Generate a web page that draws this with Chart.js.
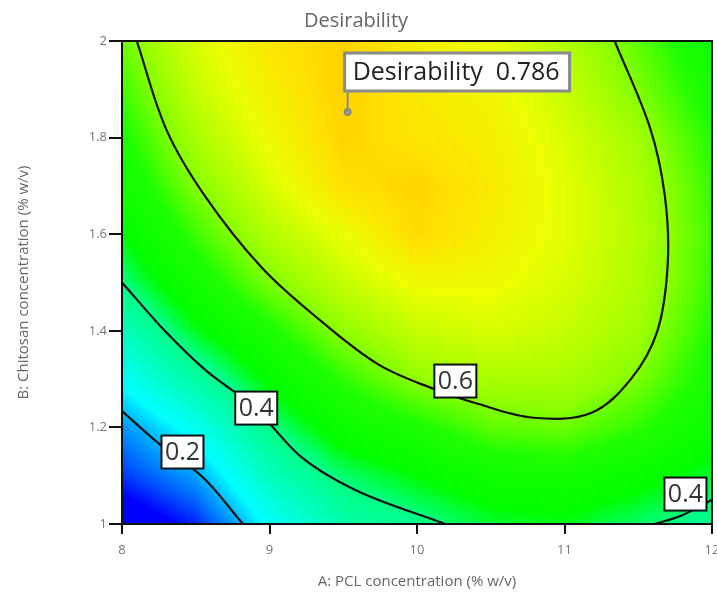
<!DOCTYPE html>
<html>
<head>
<meta charset="utf-8">
<script src="https://cdn.jsdelivr.net/npm/chart.js@4"></script>
<style>
  html, body { margin: 0; padding: 0; background: #fff; }
  #wrap { width: 717px; height: 593px; }
</style>
</head>
<body>
<div id="wrap"><canvas id="chart" width="717" height="593"></canvas></div>
<script>
// grid of the response surface, A = PCL (% w/v), B = chitosan (% w/v)
const gridA = [8, 8.5, 9, 9.5, 10, 10.5, 11, 11.5, 12];
const gridB = [1, 1.1, 1.2, 1.3, 1.4, 1.5, 1.6, 1.7, 1.8, 1.9, 2];
// desirability, one row per B value (B = 1 first)
const desir = [
  [0.05, 0.12, 0.26, 0.35, 0.39, 0.43, 0.44, 0.41, 0.38],
  [0.13, 0.195, 0.33, 0.41, 0.45, 0.49, 0.50, 0.47, 0.43],
  [0.185, 0.27, 0.395, 0.48, 0.52, 0.57, 0.58, 0.54, 0.48],
  [0.26, 0.36, 0.46, 0.54, 0.605, 0.63, 0.63, 0.59, 0.51],
  [0.33, 0.44, 0.52, 0.605, 0.66, 0.68, 0.66, 0.62, 0.53],
  [0.40, 0.50, 0.59, 0.66, 0.71, 0.71, 0.68, 0.635, 0.545],
  [0.45, 0.55, 0.64, 0.70, 0.77, 0.73, 0.69, 0.64, 0.55],
  [0.49, 0.595, 0.68, 0.76, 0.78, 0.74, 0.69, 0.635, 0.545],
  [0.52, 0.63, 0.71, 0.78, 0.75, 0.73, 0.68, 0.62, 0.53],
  [0.55, 0.66, 0.73, 0.786, 0.74, 0.72, 0.66, 0.59, 0.51],
  [0.58, 0.68, 0.75, 0.785, 0.73, 0.70, 0.64, 0.57, 0.49]
];

// contour lines (A, B pairs)
const c02A = [8, 8.24, 8.56, 8.82];
const c02B = [1.234, 1.169, 1.093, 1.0];
const c04aA = [8, 8.29, 8.56, 8.9, 9.21, 9.55, 10.19];
const c04aB = [1.5, 1.40, 1.32, 1.24, 1.14, 1.075, 1.0];
const c06A = [8.1, 8.3, 8.56, 8.95, 9.35, 9.74, 10.11, 10.4, 10.79, 11.18, 11.45, 11.63, 11.70, 11.68, 11.58, 11.34];
const c06B = [2, 1.817, 1.68, 1.53, 1.42, 1.33, 1.28, 1.25, 1.22, 1.23, 1.30, 1.40, 1.54, 1.68, 1.82, 2];
const c04bA = [11.61, 11.79, 12];
const c04bB = [1, 1.017, 1.05];

// contour labels
const labelText = ['0.2', '0.4', '0.6', '0.4'];
const labelA = [8.41, 8.91, 10.26, 11.82];
const labelB = [1.149, 1.24, 1.296, 1.062];

// optimum flag
const optA = [9.53];
const optB = [1.853];
const optD = 0.786;

// colour ramp (blue - cyan - green - yellow - orange)
const rampV = [0.0, 0.1, 0.15, 0.2, 0.25, 0.4, 0.45, 0.53, 0.6, 0.7, 0.76, 0.8];
const rampC = [[0,0,255],[0,0,255],[0,90,255],[0,170,255],[0,255,255],[0,255,130],[0,255,0],[30,255,0],[140,255,0],[235,255,0],[255,225,0],[255,200,0]];

function pts(a, b) { return a.map((v, i) => ({x: v, y: b[i]})); }

function surface(a, b) {
  let i = 0; while (i < gridA.length - 2 && a > gridA[i + 1]) i++;
  let j = 0; while (j < gridB.length - 2 && b > gridB[j + 1]) j++;
  const tx = Math.min(1, Math.max(0, (a - gridA[i]) / (gridA[i + 1] - gridA[i])));
  const ty = Math.min(1, Math.max(0, (b - gridB[j]) / (gridB[j + 1] - gridB[j])));
  return desir[j][i] * (1 - tx) * (1 - ty) + desir[j][i + 1] * tx * (1 - ty) +
         desir[j + 1][i] * (1 - tx) * ty + desir[j + 1][i + 1] * tx * ty;
}

function colour(v) {
  if (v <= rampV[0]) return rampC[0];
  for (let k = 1; k < rampV.length; k++) {
    if (v <= rampV[k]) {
      const t = (v - rampV[k - 1]) / (rampV[k] - rampV[k - 1]);
      const c0 = rampC[k - 1], c1 = rampC[k];
      return [c0[0] + (c1[0] - c0[0]) * t, c0[1] + (c1[1] - c0[1]) * t, c0[2] + (c1[2] - c0[2]) * t];
    }
  }
  return rampC[rampC.length - 1];
}

const heatmap = {
  id: 'heatmap',
  beforeDatasetsDraw(chart) {
    const {ctx, chartArea: ca, scales: {x, y}} = chart;
    const w = Math.round(ca.right - ca.left), h = Math.round(ca.bottom - ca.top);
    const off = document.createElement('canvas');
    off.width = w; off.height = h;
    const octx = off.getContext('2d');
    const img = octx.createImageData(w, h);
    for (let py = 0; py < h; py++) {
      const b = y.getValueForPixel(ca.top + py + 0.5);
      for (let px = 0; px < w; px++) {
        const a = x.getValueForPixel(ca.left + px + 0.5);
        const c = colour(surface(a, b));
        const k = (py * w + px) * 4;
        img.data[k] = c[0]; img.data[k + 1] = c[1]; img.data[k + 2] = c[2]; img.data[k + 3] = 255;
      }
    }
    octx.putImageData(img, 0, 0);
    ctx.drawImage(off, ca.left, ca.top);
  }
};

const labels = {
  id: 'labels',
  afterDatasetsDraw(chart) {
    const {ctx, scales: {x, y}} = chart;
    ctx.save();
    ctx.font = '25px "Open Sans"';
    ctx.textAlign = 'center';
    ctx.textBaseline = 'middle';
    labelText.forEach((t, i) => {
      const cx = x.getPixelForValue(labelA[i]), cy = y.getPixelForValue(labelB[i]);
      const bw = 42, bh = 33;
      ctx.fillStyle = '#fff';
      ctx.fillRect(cx - bw / 2, cy - bh / 2, bw, bh);
      ctx.lineWidth = 2;
      ctx.strokeStyle = '#111';
      ctx.strokeRect(cx - bw / 2, cy - bh / 2, bw, bh);
      ctx.fillStyle = '#333';
      ctx.fillText(t, cx, cy + 1);
    });

    // optimum flag
    const px = x.getPixelForValue(optA[0]), py = y.getPixelForValue(optB[0]);
    const txt = 'Desirability  ' + optD.toFixed(3);
    const tw = ctx.measureText(txt).width;
    const bl = px - 3, bb = py - 21, bh = 38, bw = tw + 18;
    ctx.strokeStyle = '#8a8a8a';
    ctx.lineWidth = 2;
    ctx.beginPath(); ctx.moveTo(px, py); ctx.lineTo(px, bb); ctx.stroke();
    ctx.fillStyle = '#fff';
    ctx.fillRect(bl, bb - bh, bw, bh);
    ctx.lineWidth = 3;
    ctx.strokeRect(bl, bb - bh, bw, bh);
    ctx.fillStyle = '#222';
    ctx.textAlign = 'left';
    ctx.fillText(txt, bl + 8, bb - bh / 2 + 1);
    ctx.restore();
  },
  afterDraw(chart) {
    const {ctx, chartArea: ca} = chart;
    ctx.save();
    ctx.strokeStyle = '#111';
    ctx.lineWidth = 2;
    ctx.strokeRect(ca.left, ca.top, ca.right - ca.left, ca.bottom - ca.top);
    ctx.restore();
  }
};

const line = (data, mono) => ({
  data, showLine: true, borderColor: '#111', borderWidth: 2.2,
  pointRadius: 0, tension: 0.35, fill: false,
  cubicInterpolationMode: mono ? 'monotone' : 'default'
});

Chart.defaults.font.family = '"Open Sans", sans-serif';
Chart.defaults.color = '#777';

new Chart(document.getElementById('chart'), {
  type: 'scatter',
  data: {
    datasets: [
      line(pts(c02A, c02B), true),
      line(pts(c04aA, c04aB), true),
      line(pts(c06A, c06B), false),
      line(pts(c04bA, c04bB), true),
      {data: pts(optA, optB), pointRadius: 3.5, pointBackgroundColor: '#999', pointBorderColor: '#777', borderWidth: 1}
    ]
  },
  options: {
    responsive: false,
    animation: false,
    layout: {padding: {left: 0, right: 5, top: 0, bottom: 0}},
    plugins: {
      legend: {display: false},
      tooltip: {enabled: false},
      title: {display: true, text: 'Desirability', color: '#666',
        font: {size: 20, weight: 'normal'}, padding: {top: 9, bottom: 8}}
    },
    scales: {
      x: {
        type: 'linear', min: 8, max: 12,
        ticks: {stepSize: 1, font: {size: 13}, color: '#777', padding: 8},
        grid: {drawOnChartArea: false, drawTicks: true, tickLength: 10, color: '#111', lineWidth: 2},
        border: {display: true, color: '#111', width: 2},
        title: {display: true, text: 'A: PCL concentration (% w/v)', color: '#666',
          font: {size: 15}, padding: {top: 0, bottom: 2}},
        afterFit(s) { s.height = 69; s.paddingLeft = 0; s.paddingRight = 0; }
      },
      y: {
        type: 'linear', min: 1, max: 2,
        ticks: {stepSize: 0.2, font: {size: 13}, color: '#777', padding: 2,
          callback: (v) => String(+v.toFixed(1))},
        grid: {drawOnChartArea: false, drawTicks: true, tickLength: 13, color: '#111', lineWidth: 2},
        border: {display: true, color: '#111', width: 2},
        title: {display: true, text: 'B: Chitosan concentration (% w/v)', color: '#666',
          font: {size: 15}, padding: {top: 15, bottom: 0}},
        afterFit(s) { s.width = 122; s.paddingTop = 0; s.paddingBottom = 0; }
      }
    }
  },
  plugins: [heatmap, labels]
});
</script>
</body>
</html>
